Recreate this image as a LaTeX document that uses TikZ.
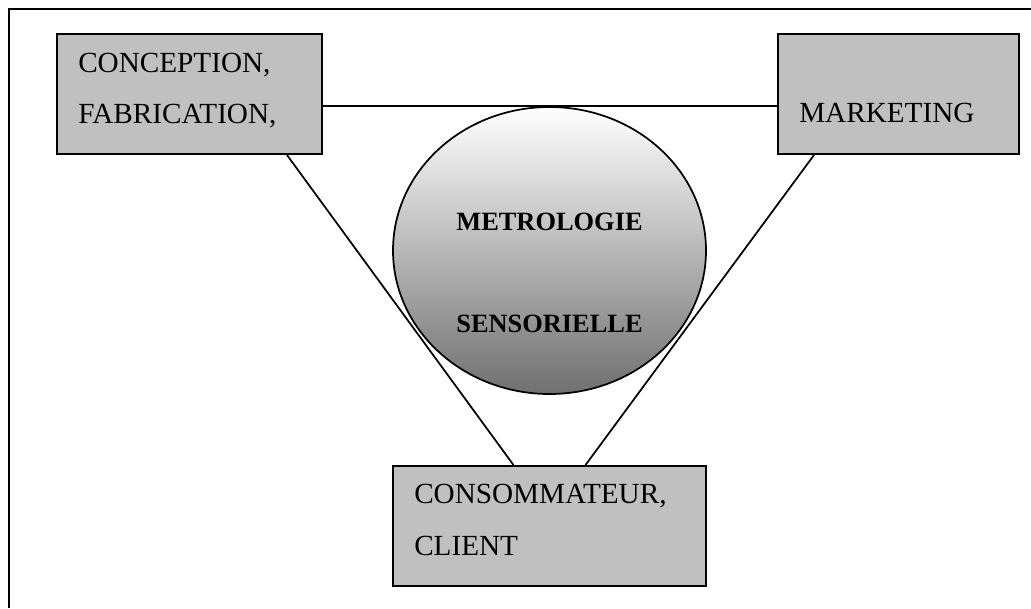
\documentclass[tikz,border=0pt]{standalone}
\usepackage{fontspec}
\setmainfont{Liberation Serif}
\usepackage{tikz}
\usetikzlibrary{arrows,positioning,calc,shapes.geometric}
\definecolor{gris}{RGB}{192,192,192}
\definecolor{grisfonce}{RGB}{112,112,112}

\begin{document}
\begin{tikzpicture}[x=0.75pt,y=-0.75pt]
\tikzstyle{boite}=[draw,fill=gris,line width=1.5pt,inner sep=0pt]
\tikzstyle{texte}=[inner sep=0pt,anchor=base west,font=\fontsize{21.9}{26}\selectfont]
\tikzstyle{titre}=[inner sep=0pt,anchor=base,font=\fontsize{19.8}{24}\selectfont\bfseries]
\tikzstyle{bulle}=[draw,ellipse,line width=1.3pt,inner sep=0pt,top color=white,bottom color=grisfonce]
\tikzstyle{trait}=[line width=1.3pt]
\def\px{0.75pt}
\useasboundingbox (0,0) rectangle (1031,608);
% cadre
\coordinate (Cadre) at (9,9);
\coordinate (CadreD) at (1031,9);
\coordinate (CadreB) at (9,608);
\draw[line width=1.9pt] (CadreD)--(Cadre)--(CadreB);
% boites
\node[boite,minimum width=265*\px,minimum height=120*\px] (A) at (189.5,94) {};
\node[boite,minimum width=241*\px,minimum height=120*\px] (B) at (898.5,94) {};
\node[boite,minimum width=313*\px,minimum height=120*\px] (C) at (549.5,526) {};
\node[bulle,minimum width=313*\px,minimum height=287*\px] (M) at (549.5,250.5) {};
% textes
\node[texte] (Aa) at (78,72) {CONCEPTION,};
\node[texte] (Ab) at (78,123) {FABRICATION,};
\node[texte] (Ba) at (799,122) {MARKETING};
\node[texte] (Ca) at (414,503) {CONSOMMATEUR,};
\node[texte] (Cb) at (414,555) {CLIENT};
\node[titre] (Ma) at (549.5,230) {METROLOGIE};
\node[titre] (Mb) at (549.5,332) {SENSORIELLE};
% liens
\draw[trait] ([yshift=-12*\px]A.east)--([yshift=-12*\px]B.west);
\draw[trait] ([xshift=-36*\px]A.south east)--([xshift=-36*\px]C.north);
\draw[trait] ([xshift=37*\px]B.south west)--([xshift=36*\px]C.north);
\end{tikzpicture}
\end{document}
